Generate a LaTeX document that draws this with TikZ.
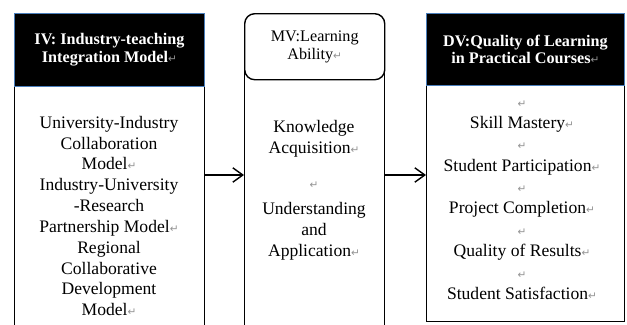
\documentclass[tikz,border=0pt]{standalone}
\usepackage{fontspec}
\setmainfont{Liberation Serif}
\newfontfamily\markfont{DejaVu Sans}
\usetikzlibrary{arrows.meta}
\definecolor{headedge}{RGB}{74,126,187}
\newcommand{\pmark}{{\markfont\mdseries\fontsize{7.5}{7.5}\selectfont\textcolor{gray!85}{↵}}}

\begin{document}
\begin{tikzpicture}[x=0.025cm,y=-0.025cm,
	box/.style={draw,line width=1pt,anchor=north west,minimum height=7cm},
	head/.style={draw=headedge,line width=0.6pt,fill=black,text=white,anchor=north west,
		align=center,font=\fontsize{11.5}{13}\selectfont\bfseries},
	roundhead/.style={draw,line width=1pt,fill=white,rounded corners=0.25cm,anchor=north west,
		align=center,font=\fontsize{11.5}{13}\selectfont},
	txt/.style={align=center,font=\fontsize{12.5}{14.8}\selectfont},
	link/.style={line width=1pt,-{Straight Barb[length=2.5mm,width=3.6mm]}}]
	%    \draw[help lines] (0,0) grid (627,324);
	\clip (0,0) rectangle (627,324);

	% independent variable
	\node[box,minimum width=4.75cm] (ivbox) at (14,86) {};
	\node[head,minimum width=4.75cm,minimum height=1.825cm] (ivhead) at (14,13)
		{IV: Industry-teaching\\Integration Model\pmark};
	\node[txt] (ivtext) at (109,216) {University-Industry\\Collaboration\\Model\pmark\\
		Industry-University\\-Research\\Partnership Model\pmark\\
		Regional\\Collaborative\\Development\\Model\pmark};

	% mediator
	\node[box,minimum width=3.5cm] (mvbox) at (244,62) {};
	\node[roundhead,minimum width=3.5cm,minimum height=1.65cm] (mvhead) at (244,13)
		{MV:Learning\\Ability\pmark};
	\node[txt] (mvtext) at (314,190) {Knowledge\\Acquisition\pmark\\[10pt]\pmark\\[4pt]
		Understanding\\and\\Application\pmark};

	% dependent variable
	\node[box,minimum width=4.95cm,minimum height=5.9cm] (dvbox) at (426,85) {};
	\node[head,minimum width=4.95cm,minimum height=1.8cm,
		font=\fontsize{11.5}{11.5}\selectfont\bfseries] (dvhead) at (426,13)
		{DV:Quality of Learning\\in Practical Courses\pmark};
	\node[txt,font=\fontsize{12.5}{15.2}\selectfont] (dvtext) at (522,200) {\pmark\\Skill Mastery\pmark\\
		\pmark\\Student Participation\pmark\\
		\pmark\\Project Completion\pmark\\
		\pmark\\Quality of Results\pmark\\
		\pmark\\Student Satisfaction\pmark};

	\coordinate (lvl) at (0,175);
	\draw[link] (ivbox.east |- lvl) -- (mvbox.west |- lvl);
	\draw[link] (mvbox.east |- lvl) -- (dvbox.west |- lvl);

\end{tikzpicture}
\end{document}
